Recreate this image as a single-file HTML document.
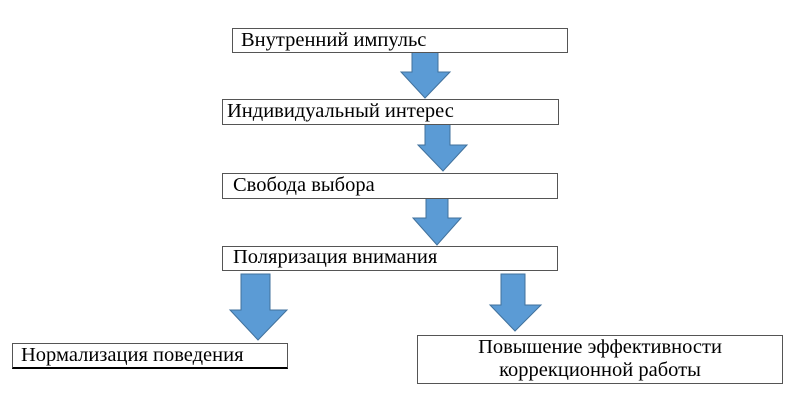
<!DOCTYPE html>
<html><head><meta charset="utf-8"><style>
body{margin:0;width:800px;height:400px;background:#fff;position:relative;overflow:hidden;font-family:"Liberation Serif","Times New Roman",Tinos,serif;}
.b{position:absolute;border:1px solid #555;background:#fff;box-sizing:border-box;font-size:20.5px;line-height:23px;color:#000;padding-left:8px;white-space:nowrap;font-family:"Liberation Serif","Times New Roman",Tinos,serif;}
svg{position:absolute;left:0;top:0}
</style></head><body>
<svg width="800" height="400">
<g fill="#5b9bd5" stroke="#41719c" stroke-width="1">
<polygon points="412,52 438,52 438,72 450,72 425,98 401,72 412,72"/>
<polygon points="425,124 450,124 450,145 467,145 443,171 418,145 425,145"/>
<polygon points="426,198 448,198 448,218 461,218 437,245 413,218 426,218"/>
<polygon points="241,274 270,274 270,310 287,310 258,340 230,310 241,310"/>
<polygon points="501,274 525,274 525,305 541,305 515,331 490,305 501,305"/>
</g>
</svg>
<div class="b" style="left:232px;top:28px;width:336px;height:25px;">Внутренний импульс</div>
<div class="b" style="left:222px;top:99px;width:337px;height:26px;padding-left:4px">Индивидуальный интерес</div>
<div class="b" style="left:222px;top:173px;width:336px;height:26px;padding-left:10px">Свобода выбора</div>
<div class="b" style="left:222px;top:246px;width:336px;height:25px;padding-left:10px;line-height:20px">Поляризация внимания</div>
<div class="b" style="left:12px;top:343px;width:276px;height:26px;padding-left:8px;border-bottom:2px solid #000">Нормализация поведения</div>
<div class="b" style="left:417px;top:335px;width:366px;height:49px;text-align:center;padding:0;line-height:23px">Повышение эффективности<br>коррекционной работы</div>
</body></html>
